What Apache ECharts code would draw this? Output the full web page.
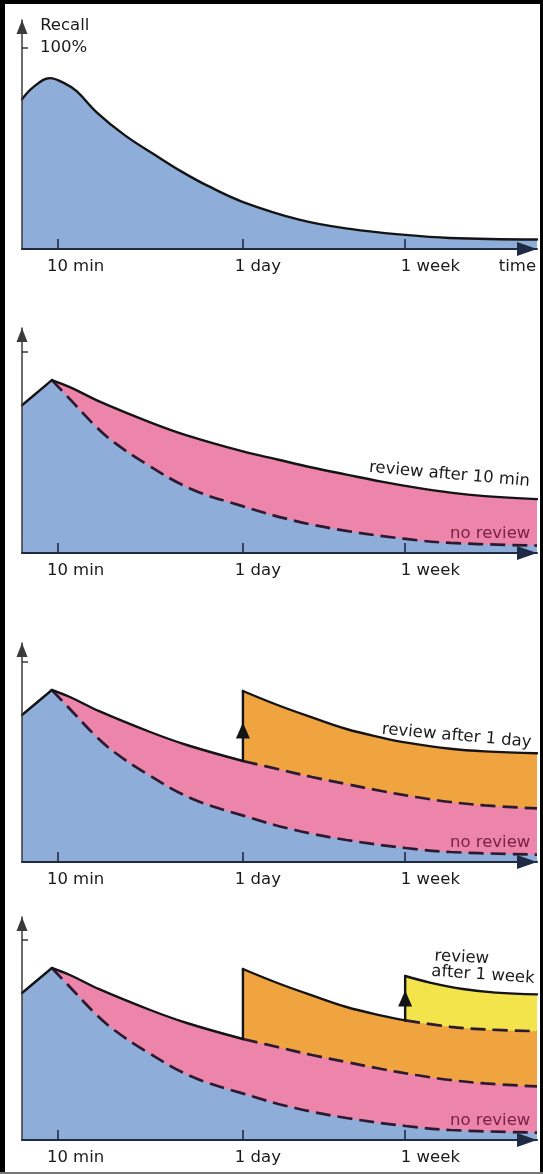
<!DOCTYPE html>
<html>
<head>
<meta charset="utf-8">
<script src="https://cdn.jsdelivr.net/npm/echarts@6/dist/echarts.min.js"></script>
<style>
html,body{margin:0;padding:0;background:#fff;}
#c{width:543px;height:1174px;}
</style>
</head>
<body>
<div id="c"></div>
<script>
// ---------------- data (x = position along the time axis, 0..100; y = recall %) ----------------
const xTicks = [7, 42.9, 74.4];                 // 10 min, 1 day, 1 week
const xLabelVals = [10.4, 45.8, 79.3, 96.2];
const xLabelText = ['10 min', '1 day', '1 week', 'time'];

// panel 1: recall curve
const recallX = [0, 2.2, 5.4, 8.1, 10.6, 14.5, 20, 26, 31, 36, 42.8, 54, 63.7, 74.4, 83, 100];
const recallY = [74.5, 80.5, 85, 82.6, 78.5, 68, 56.5, 46.5, 38.5, 31.5, 23.5, 14.5, 10, 7, 5.5, 4.7];

// panels 2-4: no review
const noRevX = [0, 5.8, 9.3, 14.5, 17.9, 24, 32.7, 42.8, 53, 63, 74.5, 83.2, 100];
const noRevY = [73.5, 86, 76.5, 62.5, 55, 44.5, 32, 23.3, 16, 11, 7, 5, 3.7];

// review after 10 min
const rev10X = [5.8, 9.3, 15.1, 24.9, 32, 42.9, 49.6, 56.3, 63, 69.8, 76.5, 83.2, 89.9, 100];
const rev10Y = [86, 82.5, 75.3, 65, 58.5, 50.5, 46.5, 42.5, 39, 35.5, 32.5, 30, 28.3, 26.8];

// review after 1 day
const rev1dX = [42.9, 49.6, 56.3, 63, 69.8, 74.4, 83.2, 89.9, 100];
const rev1dY = [85.5, 78.5, 72.3, 66.5, 62.2, 59.8, 56.6, 55.3, 54.4];

// review after 1 week
const rev1wX = [74.4, 79.2, 85.6, 92, 100];
const rev1wY = [82, 78.7, 75.5, 73.7, 72.8];

// arrowheads on the jumps (recall value at arrowhead centre): day jump, week jump
const jumpArrowY = [65.7, 70.8];

// annotations [x, recall, text]
const notes1 = [[8.3, 111.3, 'Recall']];
const notes2 = [[83, 39, 'review after 10 min']];
const notes3 = [[84.4, 63, 'review after 1 day']];
const notes4 = [[85.4, 91.2, 'review'], [89.5, 82.5, 'after 1 week']];
const noReviewNote = [[90.9, 9.8, 'no review']];

// ---------------- layout / style ----------------
const FONT = 'DejaVu Sans';
const FS = 16.5;
const BLUE = '#8fadd9', PINK = '#ec85a9', ORANGE = '#f0a440', YELLOW = '#f4e44c';
const SOLID = '#141414', DASH = '#2c1a33', AXIS = '#1f2a45', TXT = '#1a1a1a', NOREV = '#7a2148';
const SMOOTH = 0.4;
const noteRot = {'review after 10 min': -5, 'review after 1 day': -5, 'review': -3, 'after 1 week': -4};

const panels = [
  {tip: 20, axis: 249, ymax: 113.9},
  {tip: 328, axis: 553, ymax: 111.9},
  {tip: 643, axis: 862, ymax: 109.5},
  {tip: 917, axis: 1140, ymax: 111.5}
];
const LEFT = 22, RIGHTX = 537;

const P = (xs, ys) => xs.map((x, i) => [x, ys[i]]);
const recall = P(recallX, recallY), noRev = P(noRevX, noRevY), rev10 = P(rev10X, rev10Y),
      rev1d = P(rev1dX, rev1dY), rev1w = P(rev1wX, rev1wY);
const upTo = (d, x) => d.filter(p => p[0] <= x + 1e-9);
const from = (d, x) => d.filter(p => p[0] >= x - 1e-9);
const valAt = (d, x) => d.find(p => Math.abs(p[0] - x) < 1e-6)[1];
const DAY = xTicks[1], WEEK = xTicks[2], PEAK = noRevX[1];

const S = [];
function area(g, data, color) {
  S.push({type: 'line', xAxisIndex: g, yAxisIndex: g, data, smooth: data.length > 2 ? SMOOTH : false,
    symbol: 'none', silent: true, z: 2, lineStyle: {width: 0, opacity: 0}, areaStyle: {color, opacity: 1}});
}
function line(g, data, dashed, colorOverride, widthOverride) {
  S.push({type: 'line', xAxisIndex: g, yAxisIndex: g, data, smooth: data.length > 2 ? SMOOTH : false,
    symbol: 'none', silent: true, z: colorOverride ? 2 : 3,
    lineStyle: dashed ? {color: DASH, width: 2.7, type: [15, 7]}
      : {color: colorOverride || SOLID, width: widthOverride || 2.4, cap: 'round', join: 'round'}});
}
function arrow(g, x, y) {
  S.push({type: 'scatter', xAxisIndex: g, yAxisIndex: g, data: [[x, y]], symbol: 'triangle',
    symbolSize: [14, 16], itemStyle: {color: SOLID, opacity: 1}, silent: true, z: 4});
}
function notes(g, items, color) {
  S.push({type: 'scatter', xAxisIndex: g, yAxisIndex: g, symbolSize: 1, silent: true, z: 6,
    itemStyle: {color: 'rgba(0,0,0,0)', opacity: 1},
    data: items.map(t => ({value: [t[0], t[1]], label: {show: true, position: 'inside', formatter: t[2],
      rotate: noteRot[t[2]] || 0, color: color || TXT, opacity: 1, textBorderWidth: 0,
      fontSize: FS, fontFamily: FONT}}))});
}
// no-review curve: solid rise up to the peak, dashed decay afterwards (panels 2-4)
function noReview(g) {
  area(g, upTo(noRev, PEAK), BLUE);
  area(g, from(noRev, PEAK), BLUE);
  // hide the anti-aliasing seam where the two blue areas meet
  line(g, [[PEAK, 0], [PEAK, noRevY[1] - 3]], false, BLUE, 1.6);
  line(g, upTo(noRev, PEAK), false);
  line(g, from(noRev, PEAK), true);
}

// panel 1
area(0, recall, BLUE);
line(0, recall, false);
notes(0, notes1);

// panel 2
area(1, rev10, PINK);
noReview(1);
line(1, rev10, false);
notes(1, notes2);
notes(1, noReviewNote, NOREV);

// panel 3
area(2, rev1d, ORANGE);
area(2, rev10, PINK);
noReview(2);
line(2, upTo(rev10, DAY), false);
line(2, from(rev10, DAY), true);
line(2, [[DAY, valAt(rev10, DAY)], [DAY, rev1dY[0]]], false);
line(2, rev1d, false);
arrow(2, DAY, jumpArrowY[0]);
notes(2, notes3);
notes(2, noReviewNote, NOREV);

// panel 4
area(3, rev1w, YELLOW);
area(3, rev1d, ORANGE);
area(3, rev10, PINK);
noReview(3);
line(3, upTo(rev10, DAY), false);
line(3, from(rev10, DAY), true);
line(3, [[DAY, valAt(rev10, DAY)], [DAY, rev1dY[0]]], false);
line(3, upTo(rev1d, WEEK), false);
line(3, from(rev1d, WEEK), true);
line(3, [[WEEK, valAt(rev1d, WEEK)], [WEEK, rev1wY[0]]], false);
line(3, rev1w, false);
arrow(3, WEEK, jumpArrowY[1]);
notes(3, notes4);
notes(3, noReviewNote, NOREV);

const nearestLabel = v => {
  let bi = 0;
  xLabelVals.forEach((x, i) => { if (Math.abs(x - v) < Math.abs(xLabelVals[bi] - v)) bi = i; });
  return xLabelText[bi];
};

const option = {
  backgroundColor: '#ffffff',
  animation: false,
  grid: panels.map(p => ({left: LEFT, width: RIGHTX - LEFT, top: p.tip, height: p.axis - p.tip})),
  xAxis: panels.map((p, i) => ({
    type: 'value', gridIndex: i, min: 0, max: 100, z: 5,
    splitLine: {show: false},
    axisLine: {show: true, onZero: false, symbol: ['none', 'triangle'], symbolSize: [14, 20], symbolOffset: [0, -10],
      lineStyle: {color: AXIS, width: 2}},
    axisTick: {show: true, inside: true, length: 10, customValues: xTicks, lineStyle: {color: AXIS, width: 1.6}},
    axisLabel: {show: true, margin: 9, customValues: i === 0 ? xLabelVals : xLabelVals.slice(0, 3),
      formatter: v => nearestLabel(v), color: TXT, fontSize: FS, fontFamily: FONT}
  })),
  yAxis: panels.map((p, i) => ({
    type: 'value', gridIndex: i, min: 0, max: p.ymax, z: 5,
    splitLine: {show: false},
    axisLine: {show: true, onZero: false, symbol: ['none', 'triangle'], symbolSize: [11, 14], symbolOffset: [0, -7],
      lineStyle: {color: '#3a3a3a', width: 1.5}},
    axisTick: {show: true, inside: true, length: 6, customValues: [100], lineStyle: {color: '#3a3a3a', width: 1.5}},
    axisLabel: {show: i === 0, inside: true, margin: 18, customValues: [100], formatter: v => v + '%',
      color: TXT, fontSize: FS, fontFamily: FONT}
  })),
  graphic: [
    {type: 'rect', left: 0, top: 0, shape: {width: 5, height: 1174}, style: {fill: '#000'}, z: 100},
    {type: 'rect', left: 0, top: 0, shape: {width: 543, height: 4}, style: {fill: '#000'}, z: 100},
    {type: 'rect', right: 0, top: 0, shape: {width: 3, height: 1174}, style: {fill: '#000'}, z: 100},
    {type: 'rect', left: 0, bottom: 0, shape: {width: 543, height: 2}, style: {fill: '#777'}, z: 100}
  ],
  series: S
};

const chart = echarts.init(document.getElementById('c'));
chart.setOption(option);
</script>
</body>
</html>
